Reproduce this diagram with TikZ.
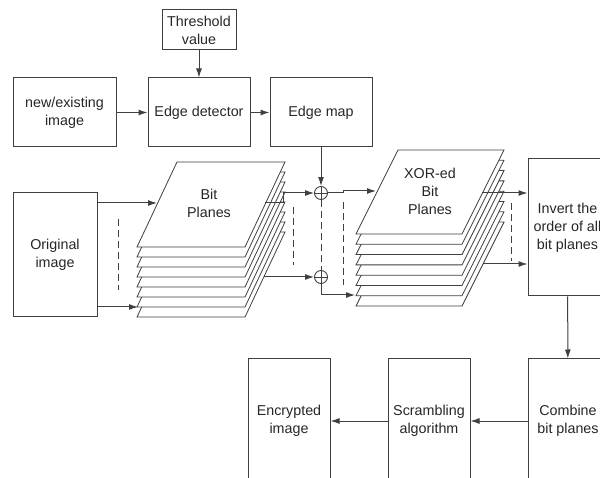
\documentclass[tikz,border=0pt]{standalone}
\usepackage{fontspec}
\setmainfont{Liberation Sans}
\usetikzlibrary{arrows.meta,positioning,calc}
\tikzstyle{block} = [rectangle, draw=black!75, line width=1pt, text=black!85, align=center, font=\fontsize{14.3}{18}\selectfont, inner sep=0pt]
\tikzstyle{label} = [text=black!85, align=center, font=\fontsize{14.3}{18}\selectfont, inner sep=0pt]
\tikzstyle{plane} = [draw=black!75, line width=0.8pt, fill=white]
\tikzstyle{wire} = [line width=1pt, draw=black!75]
\tikzstyle{arrow} = [wire, -{Latex[length=9pt,width=6pt]}]
\tikzstyle{dline} = [wire, dash pattern=on 7pt off 4pt]
\tikzstyle{xor} = [circle, draw=black!75, line width=0.9pt, minimum size=13pt, inner sep=0pt,
  path picture={\draw[black!75, line width=0.9pt] (path picture bounding box.north) -- (path picture bounding box.south)
  (path picture bounding box.west) -- (path picture bounding box.east);}]

\begin{document}
\begin{tikzpicture}[x=1pt, y=-1pt]
    \useasboundingbox (0,0) rectangle (600,478);
    \clip (0,0) rectangle (600,478);
    % top row
    \node[block, minimum width=74pt, minimum height=40pt] (thr) at (199,30) {Threshold\\value};
    \node[block, minimum width=103pt, minimum height=69pt] (new) at (64.5,112.5) {new/existing\\image};
    \node[block, minimum width=102pt, minimum height=69pt] (edet) at (199,112.5) {Edge detector};
    \node[block, minimum width=102pt, minimum height=69pt] (emap) at (321,112.5) {Edge map};
    \draw[arrow] (thr) -- (edet);
    \draw[arrow] (new) -- (edet);
    \draw[arrow] (edet) -- (emap);

    % original image and bit planes
    \node[block, minimum width=84pt, minimum height=124pt] (orig) at (55,255) {Original\\image};
    \foreach \i in {7,...,0}
        \draw[plane, shift={(0,10*\i)}] (177,162) -- (285,162) -- (245,247) -- (137,247) -- cycle;
    \node[label] (bp) at (209,203.5) {Bit\\Planes};
    \coordinate (bp1) at (157,203);
    \coordinate (bp2) at (138,307);
    \draw[arrow] (orig.east |- bp1) -- (bp1);
    \draw[arrow] (orig.east |- bp2) -- (bp2);
    \draw[dline] (118,219) -- (118,290);

    % XOR with edge map
    \node[xor] (x1) at (321,193) {};
    \node[xor] (x2) at (321,277) {};
    \coordinate (b1) at (265,203);
    \coordinate (b2) at (264,277);
    \draw[arrow] (emap) -- (x1);
    \draw[arrow] (b1) -- ++(18,0) |- (x1);
    \draw[arrow] (b2) -- (x2);
    \draw[dline] (293,207) -- (293,265);
    \draw[dline] (x1) -- (x2);

    % XOR-ed bit planes
    \foreach \i in {7,...,0}
        \draw[plane, shift={(0,10.3*\i)}] (398,150) -- (504,150) -- (462,234) -- (356,234) -- cycle;
    \node[label] (xbp) at (430,191) {XOR-ed\\Bit\\Planes};
    \coordinate (xs1) at (376,191);
    \coordinate (xs2) at (355,295);
    \draw[arrow] (x1.east) -- ++(16,0) -- ++(0,-2) -- (xs1);
    \draw[arrow] (x2) |- (xs2);
    \draw[dline] (343,202) -- (343,285);

    % invert and combine
    \node[block, minimum width=79pt, minimum height=137pt] (inv) at (567.5,227.5) {Invert the\\order of all\\bit planes};
    \coordinate (xs3) at (482,193);
    \coordinate (xs4) at (483,264);
    \draw[arrow] (xs3) -- (xs3 -| inv.west);
    \draw[arrow] (xs4) -- (xs4 -| inv.west);
    \draw[dline] (511,203) -- (511,261);

    % bottom row
    \node[block, minimum width=80pt, minimum height=124pt] (comb) at (568,421) {Combine\\bit planes};
    \node[block, minimum width=82pt, minimum height=124pt] (scr) at (429,421) {Scrambling\\algorithm};
    \node[block, minimum width=82pt, minimum height=124pt] (enc) at (289,421) {Encrypted\\image};
    \draw[arrow] (inv) -- (comb);
    \draw[arrow] (comb) -- (scr);
    \draw[arrow] (scr) -- (enc);
\end{tikzpicture}
\end{document}
